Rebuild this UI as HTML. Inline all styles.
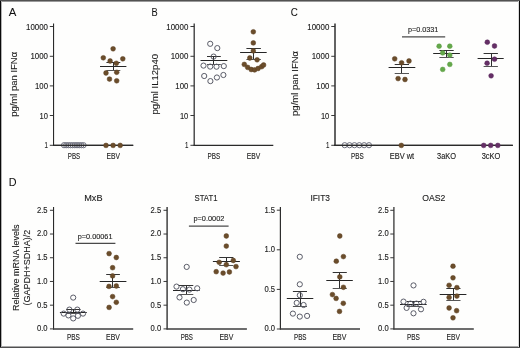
<!DOCTYPE html>
<html><head><meta charset="utf-8"><title>Figure</title>
<style>
html,body{margin:0;padding:0;background:#fff;}
body{width:520px;height:348px;overflow:hidden;}
svg{display:block;font-family:"Liberation Sans", sans-serif;will-change:transform;}
</style></head>
<body>
<svg width="520" height="348" viewBox="0 0 520 348">
<rect x="0" y="0" width="520" height="348" fill="#fefefd"/>
<text x="8.85" y="15.6" font-size="11.5" text-anchor="start" fill="#111" textLength="7.6" lengthAdjust="spacingAndGlyphs" stroke="#111" stroke-width="0.05">A</text>
<line x1="53.55" y1="23.5" x2="53.55" y2="145.9" stroke="#2a2a2a" stroke-width="1.1"/>
<line x1="49.8" y1="26.5" x2="53.55" y2="26.5" stroke="#2e2e2e" stroke-width="0.95"/>
<text x="48.0" y="29.5" font-size="8.6" text-anchor="end" fill="#222" textLength="22.0" lengthAdjust="spacingAndGlyphs" stroke="#222" stroke-width="0.12">10000</text>
<line x1="49.8" y1="56.3" x2="53.55" y2="56.3" stroke="#2e2e2e" stroke-width="0.95"/>
<text x="48.0" y="59.3" font-size="8.6" text-anchor="end" fill="#222" textLength="17.6" lengthAdjust="spacingAndGlyphs" stroke="#222" stroke-width="0.12">1000</text>
<line x1="49.8" y1="85.9" x2="53.55" y2="85.9" stroke="#2e2e2e" stroke-width="0.95"/>
<text x="48.0" y="88.9" font-size="8.6" text-anchor="end" fill="#222" textLength="13.0" lengthAdjust="spacingAndGlyphs" stroke="#222" stroke-width="0.12">100</text>
<line x1="49.8" y1="115.5" x2="53.55" y2="115.5" stroke="#2e2e2e" stroke-width="0.95"/>
<text x="48.0" y="118.5" font-size="8.6" text-anchor="end" fill="#222" textLength="8.4" lengthAdjust="spacingAndGlyphs" stroke="#222" stroke-width="0.12">10</text>
<line x1="49.8" y1="145.3" x2="53.55" y2="145.3" stroke="#2e2e2e" stroke-width="0.95"/>
<text x="48.0" y="148.3" font-size="8.6" text-anchor="end" fill="#222" textLength="3.4" lengthAdjust="spacingAndGlyphs" stroke="#222" stroke-width="0.12">1</text>
<line x1="53.05" y1="145.4" x2="133.2" y2="145.4" stroke="#2a2a2a" stroke-width="1.1"/>
<text transform="translate(17.2,84.3) rotate(-90)" x="0" y="0" font-size="8.6" text-anchor="middle" fill="#1a1a1a" stroke="#1a1a1a" stroke-width="0.1" textLength="65" lengthAdjust="spacingAndGlyphs">pg/ml pan IFN&#945;</text>
<circle cx="64.0" cy="145.2" r="2.6" fill="none" stroke="#6c6e7c" stroke-width="1.0"/>
<circle cx="66.17" cy="145.2" r="2.6" fill="none" stroke="#6c6e7c" stroke-width="1.0"/>
<circle cx="68.34" cy="145.2" r="2.6" fill="none" stroke="#6c6e7c" stroke-width="1.0"/>
<circle cx="70.51" cy="145.2" r="2.6" fill="none" stroke="#6c6e7c" stroke-width="1.0"/>
<circle cx="72.68" cy="145.2" r="2.6" fill="none" stroke="#6c6e7c" stroke-width="1.0"/>
<circle cx="74.85" cy="145.2" r="2.6" fill="none" stroke="#6c6e7c" stroke-width="1.0"/>
<circle cx="77.02" cy="145.2" r="2.6" fill="none" stroke="#6c6e7c" stroke-width="1.0"/>
<circle cx="79.19" cy="145.2" r="2.6" fill="none" stroke="#6c6e7c" stroke-width="1.0"/>
<circle cx="81.36" cy="145.2" r="2.6" fill="none" stroke="#6c6e7c" stroke-width="1.0"/>
<circle cx="83.53" cy="145.2" r="2.6" fill="none" stroke="#6c6e7c" stroke-width="1.0"/>
<line x1="53" y1="145.4" x2="133.2" y2="145.4" stroke="#2a2a2a" stroke-width="1.1"/>
<circle cx="106.0" cy="145.4" r="2.4" fill="#6b4d2b" stroke="#5a3e20" stroke-width="0.5"/>
<circle cx="113.1" cy="145.4" r="2.4" fill="#6b4d2b" stroke="#5a3e20" stroke-width="0.5"/>
<circle cx="120.2" cy="145.4" r="2.4" fill="#6b4d2b" stroke="#5a3e20" stroke-width="0.5"/>
<line x1="100.0" y1="66.5" x2="126.4" y2="66.5" stroke="#262626" stroke-width="1.0"/>
<line x1="113.5" y1="62.5" x2="113.5" y2="70.5" stroke="#2e2e2e" stroke-width="1.0"/>
<line x1="106.4" y1="62.5" x2="120.3" y2="62.5" stroke="#333" stroke-width="1.0"/>
<line x1="106.4" y1="70.5" x2="120.3" y2="70.5" stroke="#555" stroke-width="1.0"/>
<circle cx="113.1" cy="48.8" r="2.4" fill="#6b4d2b" stroke="#5a3e20" stroke-width="0.5"/>
<circle cx="103.3" cy="57.8" r="2.4" fill="#6b4d2b" stroke="#5a3e20" stroke-width="0.5"/>
<circle cx="122.8" cy="58.8" r="2.4" fill="#6b4d2b" stroke="#5a3e20" stroke-width="0.5"/>
<circle cx="110.1" cy="61.0" r="2.4" fill="#6b4d2b" stroke="#5a3e20" stroke-width="0.5"/>
<circle cx="116.3" cy="63.3" r="2.4" fill="#6b4d2b" stroke="#5a3e20" stroke-width="0.5"/>
<circle cx="106.0" cy="73.0" r="2.4" fill="#6b4d2b" stroke="#5a3e20" stroke-width="0.5"/>
<circle cx="116.7" cy="72.3" r="2.4" fill="#6b4d2b" stroke="#5a3e20" stroke-width="0.5"/>
<circle cx="109.5" cy="79.1" r="2.4" fill="#6b4d2b" stroke="#5a3e20" stroke-width="0.5"/>
<circle cx="116.7" cy="80.8" r="2.4" fill="#6b4d2b" stroke="#5a3e20" stroke-width="0.5"/>
<text x="67.75" y="158.7" font-size="8.2" text-anchor="start" fill="#222" textLength="12.4" lengthAdjust="spacingAndGlyphs" stroke="#222" stroke-width="0.12">PBS</text>
<text x="106.45" y="158.7" font-size="8.2" text-anchor="start" fill="#222" textLength="13.5" lengthAdjust="spacingAndGlyphs" stroke="#222" stroke-width="0.12">EBV</text>
<text x="151.45" y="15.6" font-size="11.5" text-anchor="start" fill="#111" textLength="6.2" lengthAdjust="spacingAndGlyphs" stroke="#111" stroke-width="0.05">B</text>
<line x1="194.2" y1="23.5" x2="194.2" y2="145.9" stroke="#333" stroke-width="1.3"/>
<line x1="190.45" y1="26.5" x2="194.2" y2="26.5" stroke="#2e2e2e" stroke-width="0.95"/>
<text x="188.3" y="29.5" font-size="8.6" text-anchor="end" fill="#222" textLength="22.0" lengthAdjust="spacingAndGlyphs" stroke="#222" stroke-width="0.12">10000</text>
<line x1="190.45" y1="56.3" x2="194.2" y2="56.3" stroke="#2e2e2e" stroke-width="0.95"/>
<text x="188.3" y="59.3" font-size="8.6" text-anchor="end" fill="#222" textLength="17.6" lengthAdjust="spacingAndGlyphs" stroke="#222" stroke-width="0.12">1000</text>
<line x1="190.45" y1="85.9" x2="194.2" y2="85.9" stroke="#2e2e2e" stroke-width="0.95"/>
<text x="188.3" y="88.9" font-size="8.6" text-anchor="end" fill="#222" textLength="13.0" lengthAdjust="spacingAndGlyphs" stroke="#222" stroke-width="0.12">100</text>
<line x1="190.45" y1="115.5" x2="194.2" y2="115.5" stroke="#2e2e2e" stroke-width="0.95"/>
<text x="188.3" y="118.5" font-size="8.6" text-anchor="end" fill="#222" textLength="8.4" lengthAdjust="spacingAndGlyphs" stroke="#222" stroke-width="0.12">10</text>
<line x1="190.45" y1="145.3" x2="194.2" y2="145.3" stroke="#2e2e2e" stroke-width="0.95"/>
<text x="188.3" y="148.3" font-size="8.6" text-anchor="end" fill="#222" textLength="3.4" lengthAdjust="spacingAndGlyphs" stroke="#222" stroke-width="0.12">1</text>
<line x1="193.7" y1="145.4" x2="273.3" y2="145.4" stroke="#2a2a2a" stroke-width="1.1"/>
<text transform="translate(157.6,84.2) rotate(-90)" x="0" y="0" font-size="8.6" text-anchor="middle" fill="#1a1a1a" stroke="#1a1a1a" stroke-width="0.1" textLength="60.5" lengthAdjust="spacingAndGlyphs">pg/ml IL12p40</text>
<line x1="200.5" y1="60.5" x2="227.3" y2="60.5" stroke="#262626" stroke-width="1.0"/>
<line x1="213.5" y1="56.5" x2="213.5" y2="64.5" stroke="#2e2e2e" stroke-width="1.0"/>
<line x1="207.0" y1="56.5" x2="220.8" y2="56.5" stroke="#333" stroke-width="1.0"/>
<line x1="207.0" y1="64.5" x2="220.8" y2="64.5" stroke="#555" stroke-width="1.0"/>
<circle cx="210.2" cy="43.8" r="2.6" fill="none" stroke="#5a5c68" stroke-width="1.0"/>
<circle cx="217.3" cy="48.1" r="2.6" fill="none" stroke="#5a5c68" stroke-width="1.0"/>
<circle cx="213.6" cy="56.6" r="2.6" fill="none" stroke="#5a5c68" stroke-width="1.0"/>
<circle cx="203.5" cy="65.6" r="2.6" fill="none" stroke="#5a5c68" stroke-width="1.0"/>
<circle cx="210.2" cy="66.6" r="2.6" fill="none" stroke="#5a5c68" stroke-width="1.0"/>
<circle cx="216.5" cy="66.7" r="2.6" fill="none" stroke="#5a5c68" stroke-width="1.0"/>
<circle cx="223.8" cy="66.1" r="2.6" fill="none" stroke="#5a5c68" stroke-width="1.0"/>
<circle cx="204.2" cy="76.0" r="2.6" fill="none" stroke="#5a5c68" stroke-width="1.0"/>
<circle cx="210.4" cy="81.1" r="2.6" fill="none" stroke="#5a5c68" stroke-width="1.0"/>
<circle cx="216.9" cy="77.5" r="2.6" fill="none" stroke="#5a5c68" stroke-width="1.0"/>
<circle cx="223.4" cy="75.0" r="2.6" fill="none" stroke="#5a5c68" stroke-width="1.0"/>
<line x1="240.1" y1="52.5" x2="266.7" y2="52.5" stroke="#262626" stroke-width="1.0"/>
<line x1="253.5" y1="48.5" x2="253.5" y2="59.5" stroke="#2e2e2e" stroke-width="1.0"/>
<line x1="246.4" y1="48.5" x2="260.9" y2="48.5" stroke="#333" stroke-width="1.0"/>
<line x1="246.4" y1="59.5" x2="260.9" y2="59.5" stroke="#555" stroke-width="1.0"/>
<circle cx="253.3" cy="31.8" r="2.4" fill="#6b4d2b" stroke="#5a3e20" stroke-width="0.5"/>
<circle cx="253.3" cy="42.9" r="2.4" fill="#6b4d2b" stroke="#5a3e20" stroke-width="0.5"/>
<circle cx="253.3" cy="50.9" r="2.4" fill="#6b4d2b" stroke="#5a3e20" stroke-width="0.5"/>
<circle cx="249.8" cy="58.0" r="2.4" fill="#6b4d2b" stroke="#5a3e20" stroke-width="0.5"/>
<circle cx="257.1" cy="59.8" r="2.4" fill="#6b4d2b" stroke="#5a3e20" stroke-width="0.5"/>
<circle cx="244.3" cy="64.4" r="2.4" fill="#6b4d2b" stroke="#5a3e20" stroke-width="0.5"/>
<circle cx="247.7" cy="67.4" r="2.4" fill="#6b4d2b" stroke="#5a3e20" stroke-width="0.5"/>
<circle cx="251.2" cy="69.5" r="2.4" fill="#6b4d2b" stroke="#5a3e20" stroke-width="0.5"/>
<circle cx="254.6" cy="69.9" r="2.4" fill="#6b4d2b" stroke="#5a3e20" stroke-width="0.5"/>
<circle cx="258.1" cy="68.5" r="2.4" fill="#6b4d2b" stroke="#5a3e20" stroke-width="0.5"/>
<circle cx="261.6" cy="66.7" r="2.4" fill="#6b4d2b" stroke="#5a3e20" stroke-width="0.5"/>
<circle cx="263.6" cy="65.0" r="2.4" fill="#6b4d2b" stroke="#5a3e20" stroke-width="0.5"/>
<text x="207.45" y="158.7" font-size="8.2" text-anchor="start" fill="#222" textLength="12.7" lengthAdjust="spacingAndGlyphs" stroke="#222" stroke-width="0.12">PBS</text>
<text x="246.75" y="158.7" font-size="8.2" text-anchor="start" fill="#222" textLength="13.5" lengthAdjust="spacingAndGlyphs" stroke="#222" stroke-width="0.12">EBV</text>
<text x="290.85" y="15.7" font-size="11.5" text-anchor="start" fill="#111" textLength="7.1" lengthAdjust="spacingAndGlyphs" stroke="#111" stroke-width="0.05">C</text>
<line x1="335.0" y1="23.5" x2="335.0" y2="145.9" stroke="#3c3c3c" stroke-width="1.6"/>
<line x1="331.25" y1="26.5" x2="335.0" y2="26.5" stroke="#2e2e2e" stroke-width="0.95"/>
<text x="329.3" y="29.5" font-size="8.6" text-anchor="end" fill="#222" textLength="22.0" lengthAdjust="spacingAndGlyphs" stroke="#222" stroke-width="0.12">10000</text>
<line x1="331.25" y1="56.3" x2="335.0" y2="56.3" stroke="#2e2e2e" stroke-width="0.95"/>
<text x="329.3" y="59.3" font-size="8.6" text-anchor="end" fill="#222" textLength="17.6" lengthAdjust="spacingAndGlyphs" stroke="#222" stroke-width="0.12">1000</text>
<line x1="331.25" y1="85.9" x2="335.0" y2="85.9" stroke="#2e2e2e" stroke-width="0.95"/>
<text x="329.3" y="88.9" font-size="8.6" text-anchor="end" fill="#222" textLength="13.0" lengthAdjust="spacingAndGlyphs" stroke="#222" stroke-width="0.12">100</text>
<line x1="331.25" y1="115.5" x2="335.0" y2="115.5" stroke="#2e2e2e" stroke-width="0.95"/>
<text x="329.3" y="118.5" font-size="8.6" text-anchor="end" fill="#222" textLength="8.4" lengthAdjust="spacingAndGlyphs" stroke="#222" stroke-width="0.12">10</text>
<line x1="331.25" y1="145.3" x2="335.0" y2="145.3" stroke="#2e2e2e" stroke-width="0.95"/>
<text x="329.3" y="148.3" font-size="8.6" text-anchor="end" fill="#222" textLength="3.4" lengthAdjust="spacingAndGlyphs" stroke="#222" stroke-width="0.12">1</text>
<line x1="334.5" y1="145.4" x2="512.8" y2="145.4" stroke="#2a2a2a" stroke-width="1.1"/>
<text transform="translate(297.8,83.4) rotate(-90)" x="0" y="0" font-size="8.6" text-anchor="middle" fill="#1a1a1a" stroke="#1a1a1a" stroke-width="0.1" textLength="65" lengthAdjust="spacingAndGlyphs">pg/ml pan IFN&#945;</text>
<circle cx="344.7" cy="145.2" r="2.6" fill="none" stroke="#6c6e7c" stroke-width="1.0"/>
<circle cx="349.56" cy="145.2" r="2.6" fill="none" stroke="#6c6e7c" stroke-width="1.0"/>
<circle cx="354.42" cy="145.2" r="2.6" fill="none" stroke="#6c6e7c" stroke-width="1.0"/>
<circle cx="359.28" cy="145.2" r="2.6" fill="none" stroke="#6c6e7c" stroke-width="1.0"/>
<circle cx="364.14" cy="145.2" r="2.6" fill="none" stroke="#6c6e7c" stroke-width="1.0"/>
<circle cx="369.0" cy="145.2" r="2.6" fill="none" stroke="#6c6e7c" stroke-width="1.0"/>
<line x1="334" y1="145.4" x2="512.8" y2="145.4" stroke="#2a2a2a" stroke-width="1.1"/>
<circle cx="401.3" cy="145.4" r="2.4" fill="#6b4d2b" stroke="#5a3e20" stroke-width="0.5"/>
<circle cx="483.7" cy="145.4" r="2.4" fill="#652f66" stroke="#572558" stroke-width="0.5"/>
<circle cx="490.7" cy="145.4" r="2.4" fill="#652f66" stroke="#572558" stroke-width="0.5"/>
<circle cx="497.8" cy="145.4" r="2.4" fill="#652f66" stroke="#572558" stroke-width="0.5"/>
<text x="407.95" y="32.1" font-size="7.0" text-anchor="start" fill="#222" textLength="30.4" lengthAdjust="spacingAndGlyphs" stroke="#222" stroke-width="0.12">p=0.0331</text>
<line x1="402" y1="36.9" x2="445.2" y2="36.9" stroke="#4a4a4a" stroke-width="1.2"/>
<line x1="388.6" y1="67.5" x2="415.3" y2="67.5" stroke="#262626" stroke-width="1.0"/>
<line x1="401.5" y1="64.5" x2="401.5" y2="73.5" stroke="#2e2e2e" stroke-width="1.0"/>
<line x1="394.7" y1="64.5" x2="409.0" y2="64.5" stroke="#333" stroke-width="1.0"/>
<line x1="394.7" y1="73.5" x2="409.0" y2="73.5" stroke="#555" stroke-width="1.0"/>
<circle cx="394.7" cy="58.8" r="2.4" fill="#6b4d2b" stroke="#5a3e20" stroke-width="0.5"/>
<circle cx="401.6" cy="62.8" r="2.4" fill="#6b4d2b" stroke="#5a3e20" stroke-width="0.5"/>
<circle cx="409.0" cy="61.0" r="2.4" fill="#6b4d2b" stroke="#5a3e20" stroke-width="0.5"/>
<circle cx="398.1" cy="78.6" r="2.4" fill="#6b4d2b" stroke="#5a3e20" stroke-width="0.5"/>
<circle cx="405.0" cy="79.5" r="2.4" fill="#6b4d2b" stroke="#5a3e20" stroke-width="0.5"/>
<line x1="433.2" y1="53.5" x2="459.9" y2="53.5" stroke="#262626" stroke-width="1.0"/>
<line x1="446.5" y1="50.5" x2="446.5" y2="57.5" stroke="#2e2e2e" stroke-width="1.0"/>
<line x1="439.4" y1="50.5" x2="453.7" y2="50.5" stroke="#333" stroke-width="1.0"/>
<line x1="439.4" y1="57.5" x2="453.7" y2="57.5" stroke="#555" stroke-width="1.0"/>
<circle cx="439.1" cy="46.2" r="2.4" fill="#64a84a" stroke="#5a9c42" stroke-width="0.5"/>
<circle cx="449.8" cy="46.2" r="2.4" fill="#64a84a" stroke="#5a9c42" stroke-width="0.5"/>
<circle cx="442.7" cy="52.9" r="2.4" fill="#64a84a" stroke="#5a9c42" stroke-width="0.5"/>
<circle cx="449.8" cy="55.1" r="2.4" fill="#64a84a" stroke="#5a9c42" stroke-width="0.5"/>
<circle cx="449.8" cy="64.4" r="2.4" fill="#64a84a" stroke="#5a9c42" stroke-width="0.5"/>
<circle cx="442.7" cy="69.4" r="2.4" fill="#64a84a" stroke="#5a9c42" stroke-width="0.5"/>
<line x1="477.6" y1="58.5" x2="503.7" y2="58.5" stroke="#262626" stroke-width="1.0"/>
<line x1="491.5" y1="53.5" x2="491.5" y2="66.5" stroke="#2e2e2e" stroke-width="1.0"/>
<line x1="483.6" y1="53.5" x2="497.9" y2="53.5" stroke="#333" stroke-width="1.0"/>
<line x1="483.6" y1="66.5" x2="497.9" y2="66.5" stroke="#555" stroke-width="1.0"/>
<circle cx="487.3" cy="42.2" r="2.4" fill="#652f66" stroke="#572558" stroke-width="0.5"/>
<circle cx="494.5" cy="46.0" r="2.4" fill="#652f66" stroke="#572558" stroke-width="0.5"/>
<circle cx="494.5" cy="59.2" r="2.4" fill="#652f66" stroke="#572558" stroke-width="0.5"/>
<circle cx="487.1" cy="63.2" r="2.4" fill="#652f66" stroke="#572558" stroke-width="0.5"/>
<circle cx="491.1" cy="75.8" r="2.4" fill="#652f66" stroke="#572558" stroke-width="0.5"/>
<text x="351.05" y="158.7" font-size="8.2" text-anchor="start" fill="#222" textLength="12.7" lengthAdjust="spacingAndGlyphs" stroke="#222" stroke-width="0.12">PBS</text>
<text x="389.75" y="158.7" font-size="8.2" text-anchor="start" fill="#222" textLength="24.4" lengthAdjust="spacingAndGlyphs" stroke="#222" stroke-width="0.12">EBV wt</text>
<text x="437.05" y="158.7" font-size="8.2" text-anchor="start" fill="#222" textLength="19.0" lengthAdjust="spacingAndGlyphs" stroke="#222" stroke-width="0.12">3aKO</text>
<text x="481.65" y="158.7" font-size="8.2" text-anchor="start" fill="#222" textLength="18.7" lengthAdjust="spacingAndGlyphs" stroke="#222" stroke-width="0.12">3cKO</text>
<text x="8.75" y="186.3" font-size="11.5" text-anchor="start" fill="#111" textLength="7.8" lengthAdjust="spacingAndGlyphs" stroke="#111" stroke-width="0.05">D</text>
<text transform="translate(18.7,267.8) rotate(-90)" x="0" y="0" font-size="8.8" text-anchor="middle" fill="#1a1a1a" stroke="#1a1a1a" stroke-width="0.1" textLength="86.4" lengthAdjust="spacingAndGlyphs">Relative mRNA levels</text>
<text transform="translate(30.3,267.6) rotate(-90)" x="0" y="0" font-size="8.9" text-anchor="middle" fill="#1a1a1a" stroke="#1a1a1a" stroke-width="0.1" textLength="76.0" lengthAdjust="spacingAndGlyphs">(GAPDH+SDHA)/2</text>
<line x1="53.55" y1="207.0" x2="53.55" y2="329.4" stroke="#2a2a2a" stroke-width="1.1"/>
<line x1="49.949999999999996" y1="210.29999999999998" x2="53.55" y2="210.29999999999998" stroke="#2e2e2e" stroke-width="0.95"/>
<text x="47.5" y="212.74999999999997" font-size="8.2" text-anchor="end" fill="#222" textLength="10.6" lengthAdjust="spacingAndGlyphs" stroke="#222" stroke-width="0.12">2.5</text>
<line x1="49.949999999999996" y1="234.01999999999998" x2="53.55" y2="234.01999999999998" stroke="#2e2e2e" stroke-width="0.95"/>
<text x="47.5" y="236.46999999999997" font-size="8.2" text-anchor="end" fill="#222" textLength="10.6" lengthAdjust="spacingAndGlyphs" stroke="#222" stroke-width="0.12">2.0</text>
<line x1="49.949999999999996" y1="257.74" x2="53.55" y2="257.74" stroke="#2e2e2e" stroke-width="0.95"/>
<text x="47.5" y="260.19" font-size="8.2" text-anchor="end" fill="#222" textLength="10.6" lengthAdjust="spacingAndGlyphs" stroke="#222" stroke-width="0.12">1.5</text>
<line x1="49.949999999999996" y1="281.46" x2="53.55" y2="281.46" stroke="#2e2e2e" stroke-width="0.95"/>
<text x="47.5" y="283.90999999999997" font-size="8.2" text-anchor="end" fill="#222" textLength="10.6" lengthAdjust="spacingAndGlyphs" stroke="#222" stroke-width="0.12">1.0</text>
<line x1="49.949999999999996" y1="305.17999999999995" x2="53.55" y2="305.17999999999995" stroke="#2e2e2e" stroke-width="0.95"/>
<text x="47.5" y="307.62999999999994" font-size="8.2" text-anchor="end" fill="#222" textLength="10.6" lengthAdjust="spacingAndGlyphs" stroke="#222" stroke-width="0.12">0.5</text>
<line x1="49.949999999999996" y1="328.9" x2="53.55" y2="328.9" stroke="#2e2e2e" stroke-width="0.95"/>
<text x="47.5" y="331.34999999999997" font-size="8.2" text-anchor="end" fill="#222" textLength="10.6" lengthAdjust="spacingAndGlyphs" stroke="#222" stroke-width="0.12">0.0</text>
<line x1="53.05" y1="329.0" x2="133.2" y2="329.0" stroke="#3c3c3c" stroke-width="1.6"/>
<text x="84.25" y="200.8" font-size="8.6" text-anchor="start" fill="#222" textLength="18.3" lengthAdjust="spacingAndGlyphs" stroke="#222" stroke-width="0.12">MxB</text>
<text x="77.75" y="239.0" font-size="7.0" text-anchor="start" fill="#222" textLength="34.7" lengthAdjust="spacingAndGlyphs" stroke="#222" stroke-width="0.12">p=0.00061</text>
<line x1="75.5" y1="243.4" x2="115.4" y2="243.4" stroke="#4a4a4a" stroke-width="1.2"/>
<line x1="59.9" y1="312.5" x2="86.8" y2="312.5" stroke="#262626" stroke-width="1.0"/>
<line x1="73.5" y1="309.5" x2="73.5" y2="313.5" stroke="#2e2e2e" stroke-width="1.0"/>
<line x1="66.2" y1="309.5" x2="80.5" y2="309.5" stroke="#333" stroke-width="1.0"/>
<line x1="66.2" y1="313.5" x2="80.5" y2="313.5" stroke="#555" stroke-width="1.0"/>
<circle cx="73.2" cy="297.6" r="2.6" fill="none" stroke="#5a5c68" stroke-width="1.0"/>
<circle cx="69.4" cy="309.6" r="2.6" fill="none" stroke="#5a5c68" stroke-width="1.0"/>
<circle cx="77.3" cy="309.6" r="2.6" fill="none" stroke="#5a5c68" stroke-width="1.0"/>
<circle cx="63.7" cy="313.6" r="2.6" fill="none" stroke="#5a5c68" stroke-width="1.0"/>
<circle cx="83.0" cy="313.6" r="2.6" fill="none" stroke="#5a5c68" stroke-width="1.0"/>
<circle cx="68.4" cy="315.4" r="2.6" fill="none" stroke="#5a5c68" stroke-width="1.0"/>
<circle cx="77.9" cy="315.8" r="2.6" fill="none" stroke="#5a5c68" stroke-width="1.0"/>
<circle cx="73.2" cy="318.4" r="2.6" fill="none" stroke="#5a5c68" stroke-width="1.0"/>
<line x1="99.7" y1="281.5" x2="126.4" y2="281.5" stroke="#262626" stroke-width="1.0"/>
<line x1="112.5" y1="274.5" x2="112.5" y2="287.5" stroke="#2e2e2e" stroke-width="1.0"/>
<line x1="106.2" y1="274.5" x2="119.9" y2="274.5" stroke="#333" stroke-width="1.0"/>
<line x1="106.2" y1="287.5" x2="119.9" y2="287.5" stroke="#555" stroke-width="1.0"/>
<circle cx="109.1" cy="253.6" r="2.4" fill="#6b4d2b" stroke="#5a3e20" stroke-width="0.5"/>
<circle cx="116.3" cy="257.5" r="2.4" fill="#6b4d2b" stroke="#5a3e20" stroke-width="0.5"/>
<circle cx="112.6" cy="267.7" r="2.4" fill="#6b4d2b" stroke="#5a3e20" stroke-width="0.5"/>
<circle cx="112.6" cy="275.9" r="2.4" fill="#6b4d2b" stroke="#5a3e20" stroke-width="0.5"/>
<circle cx="109.0" cy="286.4" r="2.4" fill="#6b4d2b" stroke="#5a3e20" stroke-width="0.5"/>
<circle cx="116.3" cy="286.0" r="2.4" fill="#6b4d2b" stroke="#5a3e20" stroke-width="0.5"/>
<circle cx="112.6" cy="296.6" r="2.4" fill="#6b4d2b" stroke="#5a3e20" stroke-width="0.5"/>
<circle cx="116.3" cy="302.3" r="2.4" fill="#6b4d2b" stroke="#5a3e20" stroke-width="0.5"/>
<circle cx="109.1" cy="307.4" r="2.4" fill="#6b4d2b" stroke="#5a3e20" stroke-width="0.5"/>
<text x="66.95" y="339.6" font-size="8.2" text-anchor="start" fill="#222" textLength="13.0" lengthAdjust="spacingAndGlyphs" stroke="#222" stroke-width="0.12">PBS</text>
<text x="106.05" y="339.6" font-size="8.2" text-anchor="start" fill="#222" textLength="13.8" lengthAdjust="spacingAndGlyphs" stroke="#222" stroke-width="0.12">EBV</text>
<line x1="167.1" y1="207.0" x2="167.1" y2="329.4" stroke="#333" stroke-width="1.4"/>
<line x1="163.5" y1="210.29999999999998" x2="167.1" y2="210.29999999999998" stroke="#2e2e2e" stroke-width="0.95"/>
<text x="161.2" y="212.74999999999997" font-size="8.2" text-anchor="end" fill="#222" textLength="10.6" lengthAdjust="spacingAndGlyphs" stroke="#222" stroke-width="0.12">2.5</text>
<line x1="163.5" y1="234.01999999999998" x2="167.1" y2="234.01999999999998" stroke="#2e2e2e" stroke-width="0.95"/>
<text x="161.2" y="236.46999999999997" font-size="8.2" text-anchor="end" fill="#222" textLength="10.6" lengthAdjust="spacingAndGlyphs" stroke="#222" stroke-width="0.12">2.0</text>
<line x1="163.5" y1="257.74" x2="167.1" y2="257.74" stroke="#2e2e2e" stroke-width="0.95"/>
<text x="161.2" y="260.19" font-size="8.2" text-anchor="end" fill="#222" textLength="10.6" lengthAdjust="spacingAndGlyphs" stroke="#222" stroke-width="0.12">1.5</text>
<line x1="163.5" y1="281.46" x2="167.1" y2="281.46" stroke="#2e2e2e" stroke-width="0.95"/>
<text x="161.2" y="283.90999999999997" font-size="8.2" text-anchor="end" fill="#222" textLength="10.6" lengthAdjust="spacingAndGlyphs" stroke="#222" stroke-width="0.12">1.0</text>
<line x1="163.5" y1="305.17999999999995" x2="167.1" y2="305.17999999999995" stroke="#2e2e2e" stroke-width="0.95"/>
<text x="161.2" y="307.62999999999994" font-size="8.2" text-anchor="end" fill="#222" textLength="10.6" lengthAdjust="spacingAndGlyphs" stroke="#222" stroke-width="0.12">0.5</text>
<line x1="163.5" y1="328.9" x2="167.1" y2="328.9" stroke="#2e2e2e" stroke-width="0.95"/>
<text x="161.2" y="331.34999999999997" font-size="8.2" text-anchor="end" fill="#222" textLength="10.6" lengthAdjust="spacingAndGlyphs" stroke="#222" stroke-width="0.12">0.0</text>
<line x1="166.6" y1="329.0" x2="246.9" y2="329.0" stroke="#3c3c3c" stroke-width="1.6"/>
<text x="194.55" y="200.9" font-size="8.6" text-anchor="start" fill="#222" textLength="22.9" lengthAdjust="spacingAndGlyphs" stroke="#222" stroke-width="0.12">STAT1</text>
<text x="193.45" y="221.3" font-size="7.0" text-anchor="start" fill="#222" textLength="30.9" lengthAdjust="spacingAndGlyphs" stroke="#222" stroke-width="0.12">p=0.0002</text>
<line x1="188.9" y1="226.1" x2="228.6" y2="226.1" stroke="#4a4a4a" stroke-width="1.2"/>
<line x1="173.0" y1="290.5" x2="199.7" y2="290.5" stroke="#262626" stroke-width="1.0"/>
<line x1="186.5" y1="285.5" x2="186.5" y2="294.5" stroke="#2e2e2e" stroke-width="1.0"/>
<line x1="178.6" y1="285.5" x2="193.3" y2="285.5" stroke="#333" stroke-width="1.0"/>
<line x1="178.6" y1="294.5" x2="193.3" y2="294.5" stroke="#555" stroke-width="1.0"/>
<circle cx="186.7" cy="266.9" r="2.6" fill="none" stroke="#5a5c68" stroke-width="1.0"/>
<circle cx="176.5" cy="286.6" r="2.6" fill="none" stroke="#5a5c68" stroke-width="1.0"/>
<circle cx="182.9" cy="289.2" r="2.6" fill="none" stroke="#5a5c68" stroke-width="1.0"/>
<circle cx="189.4" cy="289.6" r="2.6" fill="none" stroke="#5a5c68" stroke-width="1.0"/>
<circle cx="197.2" cy="288.3" r="2.6" fill="none" stroke="#5a5c68" stroke-width="1.0"/>
<circle cx="179.5" cy="297.4" r="2.6" fill="none" stroke="#5a5c68" stroke-width="1.0"/>
<circle cx="186.8" cy="302.6" r="2.6" fill="none" stroke="#5a5c68" stroke-width="1.0"/>
<circle cx="193.7" cy="300.0" r="2.6" fill="none" stroke="#5a5c68" stroke-width="1.0"/>
<line x1="212.9" y1="261.5" x2="239.9" y2="261.5" stroke="#262626" stroke-width="1.0"/>
<line x1="226.5" y1="257.5" x2="226.5" y2="265.5" stroke="#2e2e2e" stroke-width="1.0"/>
<line x1="219.2" y1="257.5" x2="233.4" y2="257.5" stroke="#333" stroke-width="1.0"/>
<line x1="219.2" y1="265.5" x2="233.4" y2="265.5" stroke="#555" stroke-width="1.0"/>
<circle cx="226.3" cy="236.0" r="2.4" fill="#6b4d2b" stroke="#5a3e20" stroke-width="0.5"/>
<circle cx="226.3" cy="246.1" r="2.4" fill="#6b4d2b" stroke="#5a3e20" stroke-width="0.5"/>
<circle cx="219.2" cy="262.3" r="2.4" fill="#6b4d2b" stroke="#5a3e20" stroke-width="0.5"/>
<circle cx="233.3" cy="260.5" r="2.4" fill="#6b4d2b" stroke="#5a3e20" stroke-width="0.5"/>
<circle cx="226.3" cy="264.7" r="2.4" fill="#6b4d2b" stroke="#5a3e20" stroke-width="0.5"/>
<circle cx="236.0" cy="266.6" r="2.4" fill="#6b4d2b" stroke="#5a3e20" stroke-width="0.5"/>
<circle cx="216.2" cy="271.7" r="2.4" fill="#6b4d2b" stroke="#5a3e20" stroke-width="0.5"/>
<circle cx="223.1" cy="273.1" r="2.4" fill="#6b4d2b" stroke="#5a3e20" stroke-width="0.5"/>
<circle cx="229.4" cy="272.0" r="2.4" fill="#6b4d2b" stroke="#5a3e20" stroke-width="0.5"/>
<text x="180.65" y="339.6" font-size="8.2" text-anchor="start" fill="#222" textLength="12.3" lengthAdjust="spacingAndGlyphs" stroke="#222" stroke-width="0.12">PBS</text>
<text x="219.45" y="339.6" font-size="8.2" text-anchor="start" fill="#222" textLength="13.8" lengthAdjust="spacingAndGlyphs" stroke="#222" stroke-width="0.12">EBV</text>
<line x1="280.4" y1="207.0" x2="280.4" y2="329.5" stroke="#2e2e2e" stroke-width="1.2"/>
<line x1="276.79999999999995" y1="210.2" x2="280.4" y2="210.2" stroke="#2e2e2e" stroke-width="0.95"/>
<text x="275.0" y="212.64999999999998" font-size="8.2" text-anchor="end" fill="#222" textLength="10.6" lengthAdjust="spacingAndGlyphs" stroke="#222" stroke-width="0.12">1.5</text>
<line x1="276.79999999999995" y1="249.8" x2="280.4" y2="249.8" stroke="#2e2e2e" stroke-width="0.95"/>
<text x="275.0" y="252.25" font-size="8.2" text-anchor="end" fill="#222" textLength="10.6" lengthAdjust="spacingAndGlyphs" stroke="#222" stroke-width="0.12">1.0</text>
<line x1="276.79999999999995" y1="289.4" x2="280.4" y2="289.4" stroke="#2e2e2e" stroke-width="0.95"/>
<text x="275.0" y="291.84999999999997" font-size="8.2" text-anchor="end" fill="#222" textLength="10.6" lengthAdjust="spacingAndGlyphs" stroke="#222" stroke-width="0.12">0.5</text>
<line x1="276.79999999999995" y1="329.0" x2="280.4" y2="329.0" stroke="#2e2e2e" stroke-width="0.95"/>
<text x="275.0" y="331.45" font-size="8.2" text-anchor="end" fill="#222" textLength="10.6" lengthAdjust="spacingAndGlyphs" stroke="#222" stroke-width="0.12">0.0</text>
<line x1="279.9" y1="329.0" x2="360.0" y2="329.0" stroke="#3c3c3c" stroke-width="1.6"/>
<text x="310.45" y="200.8" font-size="8.6" text-anchor="start" fill="#222" textLength="19.5" lengthAdjust="spacingAndGlyphs" stroke="#222" stroke-width="0.12">IFIT3</text>
<line x1="286.8" y1="298.5" x2="313.3" y2="298.5" stroke="#262626" stroke-width="1.0"/>
<line x1="300.5" y1="291.5" x2="300.5" y2="306.5" stroke="#2e2e2e" stroke-width="1.0"/>
<line x1="292.9" y1="291.5" x2="307.0" y2="291.5" stroke="#333" stroke-width="1.0"/>
<line x1="292.9" y1="306.5" x2="307.0" y2="306.5" stroke="#555" stroke-width="1.0"/>
<circle cx="299.8" cy="256.8" r="2.6" fill="none" stroke="#5a5c68" stroke-width="1.0"/>
<circle cx="299.8" cy="284.3" r="2.6" fill="none" stroke="#5a5c68" stroke-width="1.0"/>
<circle cx="299.8" cy="295.2" r="2.6" fill="none" stroke="#5a5c68" stroke-width="1.0"/>
<circle cx="296.7" cy="302.9" r="2.6" fill="none" stroke="#5a5c68" stroke-width="1.0"/>
<circle cx="303.6" cy="305.0" r="2.6" fill="none" stroke="#5a5c68" stroke-width="1.0"/>
<circle cx="292.9" cy="313.6" r="2.6" fill="none" stroke="#5a5c68" stroke-width="1.0"/>
<circle cx="299.8" cy="316.6" r="2.6" fill="none" stroke="#5a5c68" stroke-width="1.0"/>
<circle cx="307.1" cy="315.9" r="2.6" fill="none" stroke="#5a5c68" stroke-width="1.0"/>
<line x1="326.3" y1="280.5" x2="352.8" y2="280.5" stroke="#262626" stroke-width="1.0"/>
<line x1="339.5" y1="272.5" x2="339.5" y2="288.5" stroke="#2e2e2e" stroke-width="1.0"/>
<line x1="332.7" y1="272.5" x2="346.8" y2="272.5" stroke="#333" stroke-width="1.0"/>
<line x1="332.7" y1="288.5" x2="346.8" y2="288.5" stroke="#555" stroke-width="1.0"/>
<circle cx="339.8" cy="236.0" r="2.4" fill="#6b4d2b" stroke="#5a3e20" stroke-width="0.5"/>
<circle cx="343.4" cy="256.6" r="2.4" fill="#6b4d2b" stroke="#5a3e20" stroke-width="0.5"/>
<circle cx="336.3" cy="261.2" r="2.4" fill="#6b4d2b" stroke="#5a3e20" stroke-width="0.5"/>
<circle cx="339.8" cy="276.9" r="2.4" fill="#6b4d2b" stroke="#5a3e20" stroke-width="0.5"/>
<circle cx="343.4" cy="287.3" r="2.4" fill="#6b4d2b" stroke="#5a3e20" stroke-width="0.5"/>
<circle cx="332.4" cy="294.6" r="2.4" fill="#6b4d2b" stroke="#5a3e20" stroke-width="0.5"/>
<circle cx="336.1" cy="298.4" r="2.4" fill="#6b4d2b" stroke="#5a3e20" stroke-width="0.5"/>
<circle cx="343.3" cy="303.3" r="2.4" fill="#6b4d2b" stroke="#5a3e20" stroke-width="0.5"/>
<circle cx="339.5" cy="311.4" r="2.4" fill="#6b4d2b" stroke="#5a3e20" stroke-width="0.5"/>
<text x="293.95" y="339.6" font-size="8.2" text-anchor="start" fill="#222" textLength="12.6" lengthAdjust="spacingAndGlyphs" stroke="#222" stroke-width="0.12">PBS</text>
<text x="332.45" y="339.6" font-size="8.2" text-anchor="start" fill="#222" textLength="14.0" lengthAdjust="spacingAndGlyphs" stroke="#222" stroke-width="0.12">EBV</text>
<line x1="393.9" y1="207.0" x2="393.9" y2="329.4" stroke="#444" stroke-width="1.4"/>
<line x1="390.29999999999995" y1="210.29999999999998" x2="393.9" y2="210.29999999999998" stroke="#2e2e2e" stroke-width="0.95"/>
<text x="388.7" y="212.74999999999997" font-size="8.2" text-anchor="end" fill="#222" textLength="10.6" lengthAdjust="spacingAndGlyphs" stroke="#222" stroke-width="0.12">2.5</text>
<line x1="390.29999999999995" y1="234.01999999999998" x2="393.9" y2="234.01999999999998" stroke="#2e2e2e" stroke-width="0.95"/>
<text x="388.7" y="236.46999999999997" font-size="8.2" text-anchor="end" fill="#222" textLength="10.6" lengthAdjust="spacingAndGlyphs" stroke="#222" stroke-width="0.12">2.0</text>
<line x1="390.29999999999995" y1="257.74" x2="393.9" y2="257.74" stroke="#2e2e2e" stroke-width="0.95"/>
<text x="388.7" y="260.19" font-size="8.2" text-anchor="end" fill="#222" textLength="10.6" lengthAdjust="spacingAndGlyphs" stroke="#222" stroke-width="0.12">1.5</text>
<line x1="390.29999999999995" y1="281.46" x2="393.9" y2="281.46" stroke="#2e2e2e" stroke-width="0.95"/>
<text x="388.7" y="283.90999999999997" font-size="8.2" text-anchor="end" fill="#222" textLength="10.6" lengthAdjust="spacingAndGlyphs" stroke="#222" stroke-width="0.12">1.0</text>
<line x1="390.29999999999995" y1="305.17999999999995" x2="393.9" y2="305.17999999999995" stroke="#2e2e2e" stroke-width="0.95"/>
<text x="388.7" y="307.62999999999994" font-size="8.2" text-anchor="end" fill="#222" textLength="10.6" lengthAdjust="spacingAndGlyphs" stroke="#222" stroke-width="0.12">0.5</text>
<line x1="390.29999999999995" y1="328.9" x2="393.9" y2="328.9" stroke="#2e2e2e" stroke-width="0.95"/>
<text x="388.7" y="331.34999999999997" font-size="8.2" text-anchor="end" fill="#222" textLength="10.6" lengthAdjust="spacingAndGlyphs" stroke="#222" stroke-width="0.12">0.0</text>
<line x1="393.4" y1="329.0" x2="473.8" y2="329.0" stroke="#3c3c3c" stroke-width="1.6"/>
<text x="422.25" y="201.0" font-size="8.6" text-anchor="start" fill="#222" textLength="23.1" lengthAdjust="spacingAndGlyphs" stroke="#222" stroke-width="0.12">OAS2</text>
<line x1="400.0" y1="304.5" x2="426.7" y2="304.5" stroke="#262626" stroke-width="1.0"/>
<line x1="413.5" y1="301.5" x2="413.5" y2="306.5" stroke="#2e2e2e" stroke-width="1.0"/>
<line x1="406.6" y1="301.5" x2="421.6" y2="301.5" stroke="#333" stroke-width="1.0"/>
<line x1="406.6" y1="306.5" x2="421.6" y2="306.5" stroke="#555" stroke-width="1.0"/>
<circle cx="413.5" cy="285.4" r="2.6" fill="none" stroke="#5a5c68" stroke-width="1.0"/>
<circle cx="403.5" cy="301.6" r="2.6" fill="none" stroke="#5a5c68" stroke-width="1.0"/>
<circle cx="410.4" cy="303.6" r="2.6" fill="none" stroke="#5a5c68" stroke-width="1.0"/>
<circle cx="416.4" cy="303.6" r="2.6" fill="none" stroke="#5a5c68" stroke-width="1.0"/>
<circle cx="423.5" cy="301.8" r="2.6" fill="none" stroke="#5a5c68" stroke-width="1.0"/>
<circle cx="406.6" cy="307.9" r="2.6" fill="none" stroke="#5a5c68" stroke-width="1.0"/>
<circle cx="421.0" cy="309.3" r="2.6" fill="none" stroke="#5a5c68" stroke-width="1.0"/>
<circle cx="413.5" cy="313.3" r="2.6" fill="none" stroke="#5a5c68" stroke-width="1.0"/>
<line x1="439.7" y1="294.5" x2="466.4" y2="294.5" stroke="#262626" stroke-width="1.0"/>
<line x1="453.5" y1="288.5" x2="453.5" y2="300.5" stroke="#2e2e2e" stroke-width="1.0"/>
<line x1="446.3" y1="288.5" x2="460.5" y2="288.5" stroke="#333" stroke-width="1.0"/>
<line x1="446.3" y1="300.5" x2="460.5" y2="300.5" stroke="#555" stroke-width="1.0"/>
<circle cx="453.0" cy="266.2" r="2.4" fill="#6b4d2b" stroke="#5a3e20" stroke-width="0.5"/>
<circle cx="453.0" cy="277.8" r="2.4" fill="#6b4d2b" stroke="#5a3e20" stroke-width="0.5"/>
<circle cx="449.1" cy="285.3" r="2.4" fill="#6b4d2b" stroke="#5a3e20" stroke-width="0.5"/>
<circle cx="456.9" cy="287.6" r="2.4" fill="#6b4d2b" stroke="#5a3e20" stroke-width="0.5"/>
<circle cx="449.1" cy="297.4" r="2.4" fill="#6b4d2b" stroke="#5a3e20" stroke-width="0.5"/>
<circle cx="456.9" cy="296.1" r="2.4" fill="#6b4d2b" stroke="#5a3e20" stroke-width="0.5"/>
<circle cx="449.1" cy="308.0" r="2.4" fill="#6b4d2b" stroke="#5a3e20" stroke-width="0.5"/>
<circle cx="456.6" cy="310.7" r="2.4" fill="#6b4d2b" stroke="#5a3e20" stroke-width="0.5"/>
<circle cx="453.0" cy="317.8" r="2.4" fill="#6b4d2b" stroke="#5a3e20" stroke-width="0.5"/>
<text x="406.95" y="339.6" font-size="8.2" text-anchor="start" fill="#222" textLength="13.0" lengthAdjust="spacingAndGlyphs" stroke="#222" stroke-width="0.12">PBS</text>
<text x="446.45" y="339.6" font-size="8.2" text-anchor="start" fill="#222" textLength="13.5" lengthAdjust="spacingAndGlyphs" stroke="#222" stroke-width="0.12">EBV</text>
<rect x="0" y="1" width="520" height="1" fill="#9a9a9a"/>
<rect x="0" y="346" width="520" height="1" fill="#a8a8a8"/>
<rect x="1" y="0" width="1" height="348" fill="#b2b2b2"/>
<rect x="518" y="0" width="1" height="348" fill="#dadada"/>
<rect x="0" y="0" width="1" height="348" fill="#0a0a0a"/>
<rect x="519" y="0" width="1" height="348" fill="#0a0a0a"/>
<rect x="0" y="0" width="520" height="1" fill="#525252"/>
<rect x="0" y="347" width="520" height="1" fill="#505050"/>
</svg>
</body></html>
